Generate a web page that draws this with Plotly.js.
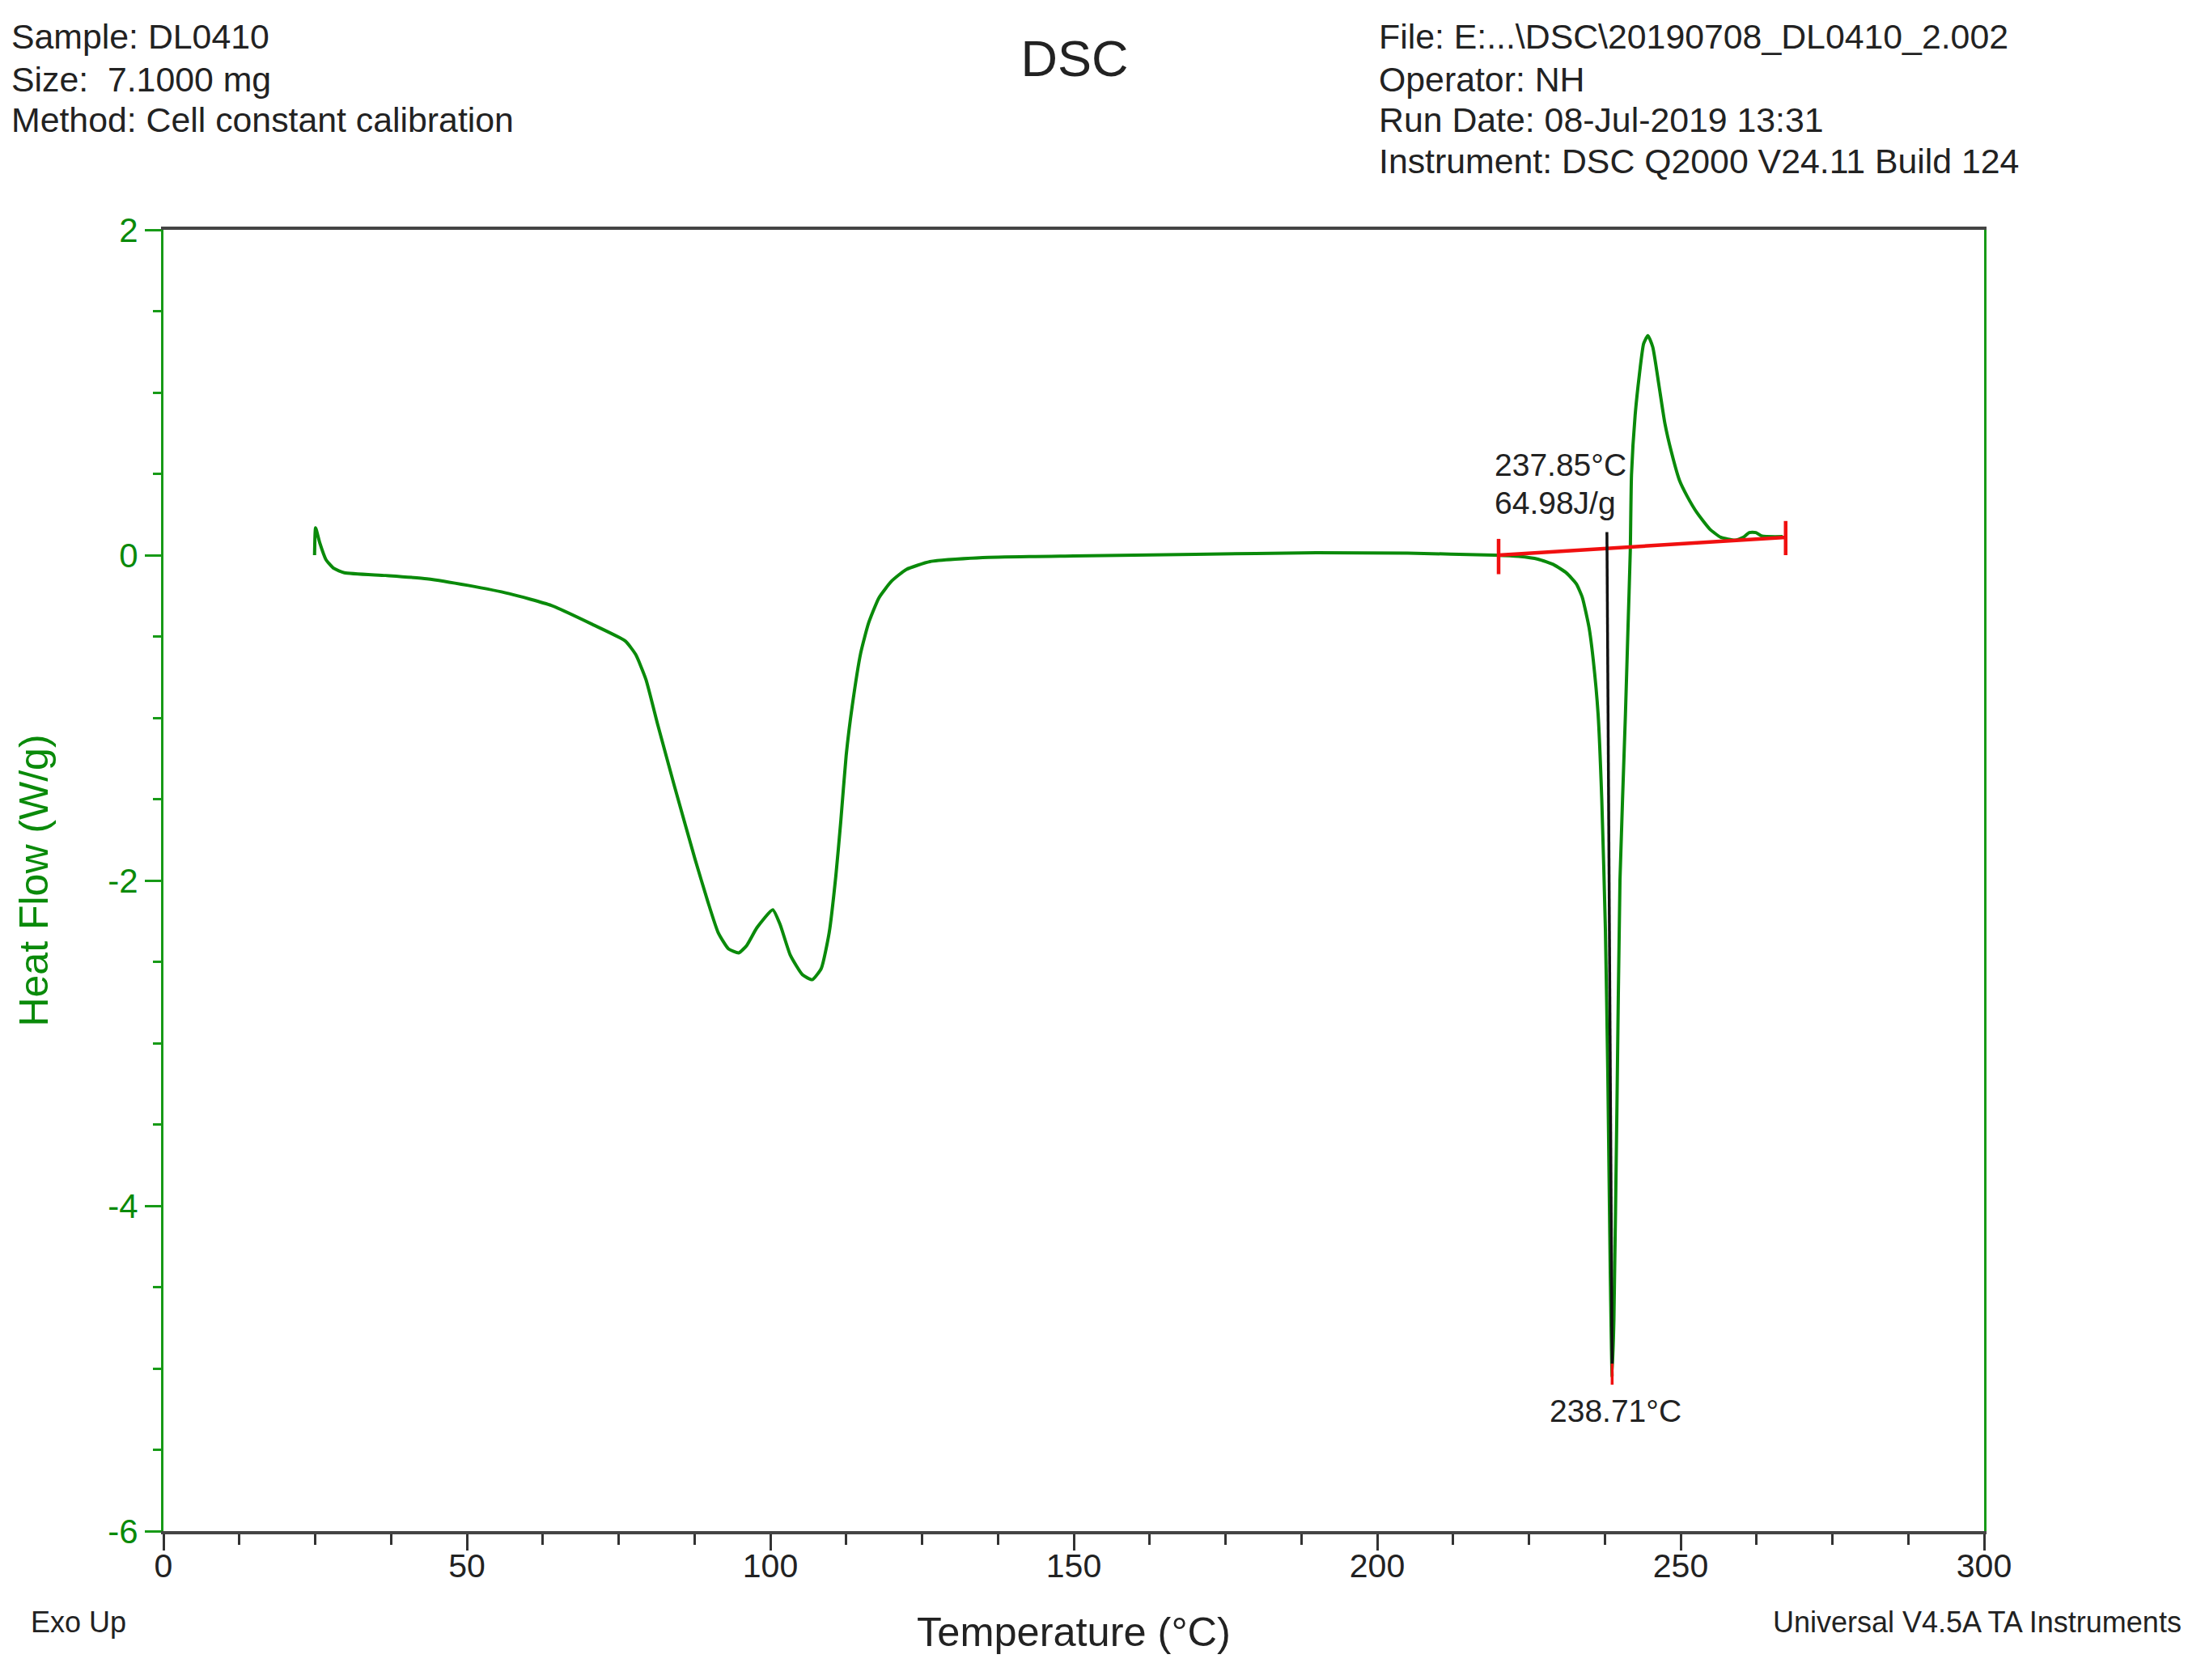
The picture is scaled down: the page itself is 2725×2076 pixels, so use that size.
<!DOCTYPE html>
<html>
<head>
<meta charset="utf-8">
<script src="https://cdn.plot.ly/plotly-3.0.1.min.js"></script>
<style>html,body{margin:0;padding:0;background:#fff}</style>
</head>
<body>
<div id="chart" style="width:2725px;height:2076px"></div>
<script>
const temperature = [24.9,25.07,25.75,26.77,28.1,29.8,36.6,43.4,50.2,57,63.9,70.7,76.1,77.8,79.5,81.5,84.2,87.6,89.7,91.4,93.1,94.8,96.1,97.8,100.4,101.6,103.3,105.3,106.9,108.4,109.7,110.8,111.6,112.5,113.5,114.9,116.2,117.9,120,122.4,126.3,135,150,170,190,205,219.4,223.3,226.5,229.1,231.2,232.8,233.8,234.9,235.6,236.4,237.0,237.6,238.0,238.4,238.71,239.0,239.5,240.0,240.9,241.3,241.7,241.9,242.5,243.2,243.9,244.6,245.4,246.4,247.4,248.5,249.8,251.1,252.7,254.8,256.6,259,260.3,261.3,262.4,263.4,266.8];
const heatFlow = [0,0.168,0.076,-0.027,-0.082,-0.108,-0.125,-0.145,-0.186,-0.237,-0.309,-0.426,-0.528,-0.61,-0.764,-1.05,-1.42,-1.87,-2.13,-2.32,-2.42,-2.445,-2.40,-2.29,-2.18,-2.27,-2.46,-2.58,-2.61,-2.54,-2.32,-1.97,-1.64,-1.23,-0.926,-0.6,-0.416,-0.262,-0.159,-0.088,-0.04,-0.015,-0.005,0.005,0.015,0.012,0,-0.008,-0.025,-0.059,-0.11,-0.176,-0.26,-0.444,-0.645,-0.98,-1.5,-2.3,-3.2,-4.4,-5.05,-4.7,-3.4,-2.0,-0.98,-0.477,0.025,0.494,0.86,1.11,1.30,1.35,1.28,1.05,0.81,0.63,0.46,0.36,0.26,0.16,0.11,0.092,0.109,0.139,0.139,0.117,0.114];

const baselineX = [220,267.3];
const baselineY = [0,0.11];
const leftCapX = [220,220];
const leftCapY = [0.1,-0.117];
const rightCapX = [267.3,267.3];
const rightCapY = [0.21,0];
const onsetX = [237.85,238.71];
const onsetY = [0.142,-4.97];
const peakTipX = [238.71,238.71];
const peakTipY = [-4.97,-5.1];

const xMajorTicks = [0,50,100,150,200,250,300];
const yMajorTicks = [-6,-4,-2,0,2];
const headerLeft = ["Sample: DL0410","Size:  7.1000 mg","Method: Cell constant calibration"];
const headerRight = ["File: E:...\\DSC\\20190708_DL0410_2.002","Operator: NH","Run Date: 08-Jul-2019 13:31","Instrument: DSC Q2000 V24.11 Build 124"];

const FONT = "Liberation Sans, Arial, sans-serif";
const GREEN = "#0a8a0a", AXISGREEN = "#179a17", INK = "#222222";
const L = 202, R = 2452, T = 284, B = 1892;
const px = x => (x - L) / (R - L);
const py = y => (B - y) / (B - T);
function note(text, x, y, size, anchor) {
  return {text: text.replace(/  /g, "\u00a0 "), xref: "paper", yref: "paper", x: px(x), y: py(y),
    xanchor: anchor || "left", yanchor: "middle", showarrow: false,
    font: {family: FONT, size: size, color: INK}};
}
const leftRows = [45,98,148], rightRows = [45,98,148,199];
const annotations = [
  ...headerLeft.map((t,i) => note(t, 12, leftRows[i], 42.8)),
  ...headerRight.map((t,i) => note(t, 1702, rightRows[i], 42.8)),
  note("237.85°C", 1845, 574, 39),
  note("64.98J/g", 1845, 621, 39),
  note("238.71°C", 1996, 1743, 39, "center"),
  note("Exo Up", 36, 2005, 36),
  note("Universal V4.5A TA Instruments", 2189, 2005, 36)
];
const seg = (x,y,color,w,smooth) => ({x:x,y:y,mode:"lines",type:"scatter",
  line: smooth ? {color:color,width:w,shape:"spline",smoothing:0.5} : {color:color,width:w},
  hoverinfo:"skip",showlegend:false});
const data = [
  seg(temperature, heatFlow, GREEN, 4, true),
  seg(baselineX, baselineY, "#f01010", 4.5),
  seg(leftCapX, leftCapY, "#f01010", 4.5),
  seg(rightCapX, rightCapY, "#f01010", 4.5),
  seg(onsetX, onsetY, "#111111", 3.5),
  seg(peakTipX, peakTipY, "#f01010", 3.5)
];
const layout = {
  width: 2725, height: 2076,
  margin: {l:L, r:2725-R, t:T, b:2076-B, pad:0},
  paper_bgcolor: "#fff", plot_bgcolor: "#fff",
  font: {family: FONT, color: INK},
  showlegend: false,
  title: {text: "DSC", font: {family: FONT, size: 63, color: INK}, x: 1328/2725, xanchor: "center", y: 1-72/2076, yanchor: "middle"},
  annotations: annotations,
  xaxis: {
    range: [0,300], tickmode: "array", tickvals: xMajorTicks, ticktext: xMajorTicks.map(String),
    ticks: "outside", ticklen: 20, tickwidth: 3, tickcolor: "#333",
    minor: {dtick: 12.5, tick0: 0, ticks: "outside", ticklen: 13, tickwidth: 3, tickcolor: "#333", showgrid: false},
    tickfont: {family: FONT, size: 41, color: INK}, ticklabelstandoff: -16,
    showline: true, linecolor: "#444", linewidth: 4, mirror: true,
    showgrid: false, zeroline: false,
    title: {text: "Temperature (°C)", font: {family: FONT, size: 50.5, color: INK}, standoff: 42}
  },
  yaxis: {
    range: [-6,2], tickmode: "array", tickvals: yMajorTicks, ticktext: yMajorTicks.map(String),
    ticks: "outside", ticklen: 20, tickwidth: 3, tickcolor: AXISGREEN,
    minor: {dtick: 0.5, tick0: 0, ticks: "outside", ticklen: 10, tickwidth: 3, tickcolor: AXISGREEN, showgrid: false},
    tickfont: {family: FONT, size: 42, color: GREEN},
    showline: true, linecolor: AXISGREEN, linewidth: 3, mirror: true,
    showgrid: false, zeroline: false,
    title: {text: "Heat Flow (W/g)", font: {family: FONT, size: 50, color: GREEN}, standoff: 58}
  }
};
Plotly.newPlot("chart", data, layout, {displayModeBar:false, staticPlot:true});
</script>
</body>
</html>
